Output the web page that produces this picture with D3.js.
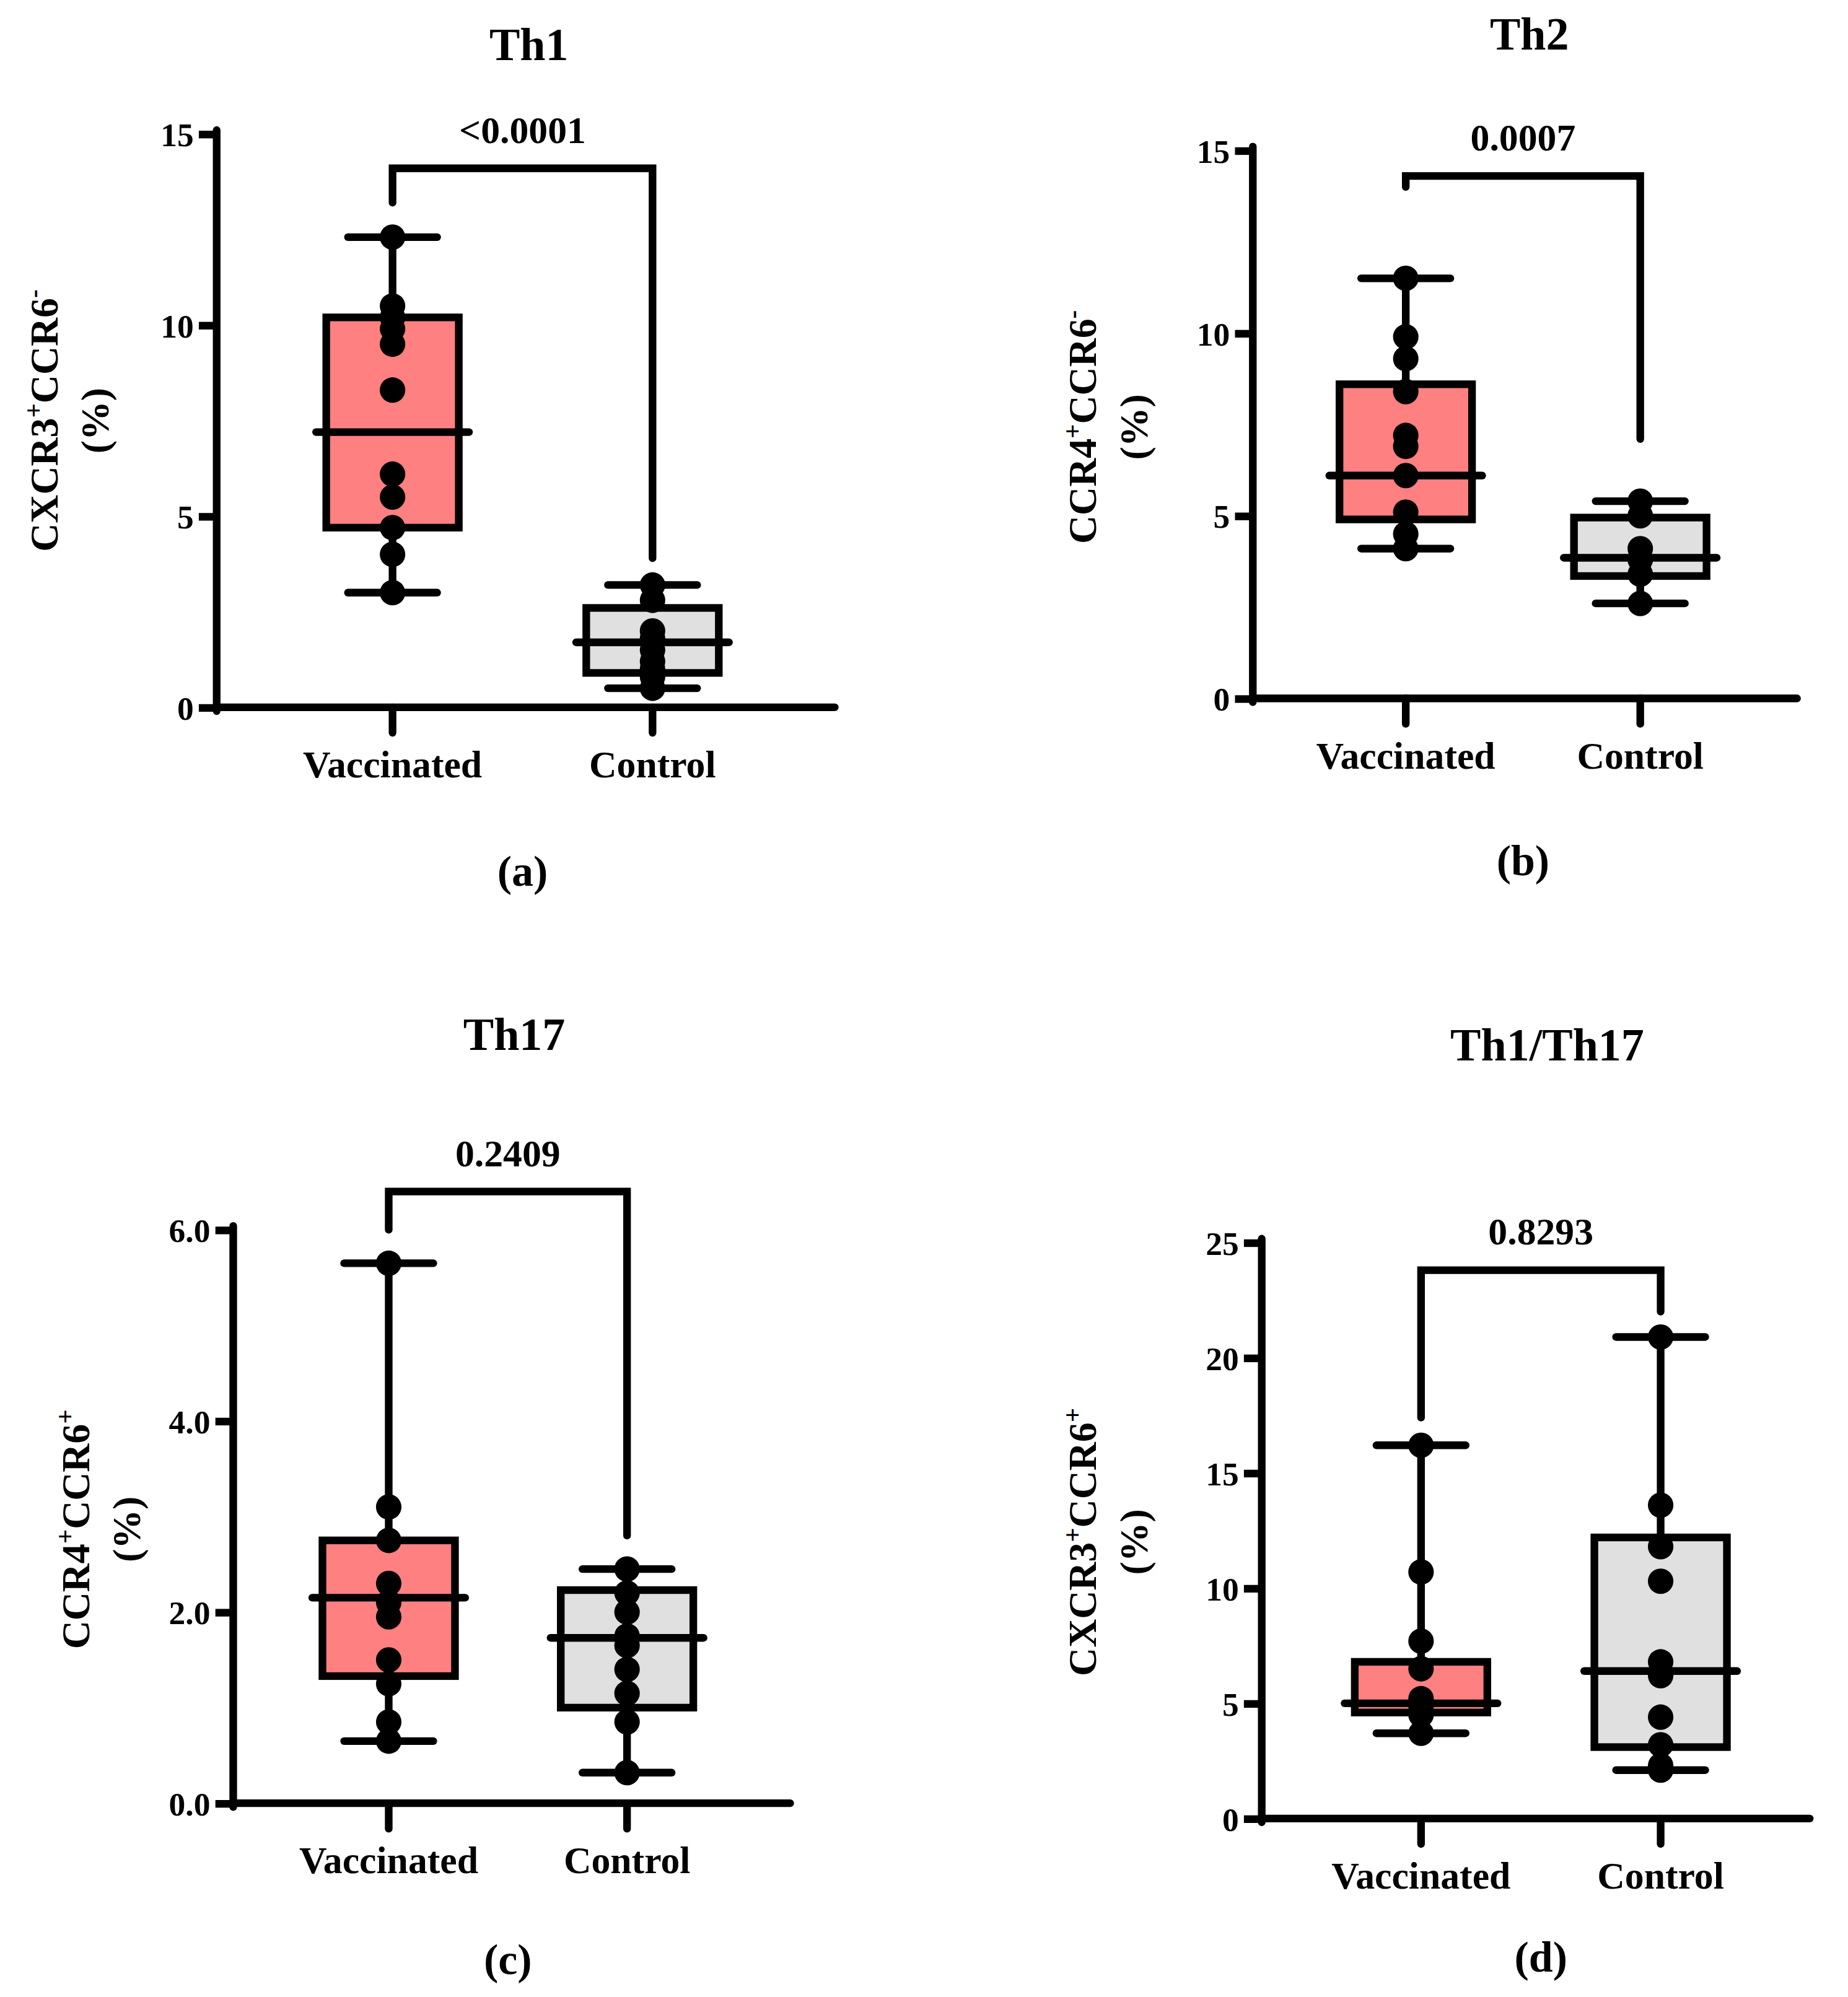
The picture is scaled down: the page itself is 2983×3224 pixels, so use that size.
<!DOCTYPE html>
<html><head><meta charset="utf-8">
<script src="https://cdn.jsdelivr.net/npm/d3@7"></script>
<style>body{margin:0;background:#fff}text{font-family:"Liberation Serif","Times New Roman",serif;font-weight:bold;fill:#000}</style>
</head><body>
<svg id="chart" width="2983" height="3224" viewBox="0 0 1450 1567"></svg>
<script>
//data//
var groups = ["Vaccinated", "Control"];
var th1Vacc = [12.3, 10.5, 10.2, 9.9, 9.5, 8.3, 6.1, 5.5, 4.7, 4.0, 3.0];
var th1Ctrl = [3.2, 2.8, 2.0, 1.8, 1.5, 1.2, 1.0, 0.8, 0.5];
var th1Box = [[3.0, 4.7, 7.2, 10.2, 12.3], [0.5, 0.9, 1.7, 2.6, 3.2]];
var th2Vacc = [11.5, 9.9, 9.3, 8.4, 7.2, 6.9, 6.1, 5.1, 4.5, 4.1];
var th2Ctrl = [5.4, 5.0, 4.1, 3.8, 3.4, 2.6];
var th2Box = [[4.1, 4.9, 6.1, 8.6, 11.5], [2.6, 3.35, 3.85, 4.95, 5.4]];
var th17Vacc = [5.65, 3.1, 2.75, 2.3, 2.1, 1.95, 1.5, 1.25, 0.85, 0.65];
var th17Ctrl = [2.45, 2.2, 2.0, 1.75, 1.65, 1.4, 1.15, 0.85, 0.32];
var th17Box = [[0.65, 1.33, 2.15, 2.75, 5.65], [0.32, 1.0, 1.73, 2.23, 2.45]];
var ratioVacc = [16.2, 10.7, 7.7, 6.5, 5.2, 4.9, 4.7, 4.5, 3.7];
var ratioCtrl = [20.9, 13.6, 11.8, 10.3, 6.8, 6.2, 4.4, 3.2, 2.3, 2.1];
var ratioBox = [[3.7, 4.6, 5.0, 6.8, 16.2], [2.1, 3.1, 6.4, 12.2, 20.9]];
var colors = ["#ff8080", "#e0e0e0"];

var panels = [
 {title:"Th1", tag:"(a)", lab:["CXCR3","+","CCR6","-"], p:"<0.0001", pts:[th1Vacc, th1Ctrl], box:th1Box,
  yMax:15, ticks:[0,5,10,15], br:[13.2, 14.1, 3.9],
  x0:170, x1:655, yTop:105, yBot:555, gx:[308,512], titleY:35, labX:45, labY:330, tagY:683},
 {title:"Th2", tag:"(b)", lab:["CCR4","+","CCR6","-"], p:"0.0007", pts:[th2Vacc, th2Ctrl], box:th2Box,
  yMax:15, ticks:[0,5,10,15], br:[14.0, 14.3, 7.1],
  x0:983, x1:1410, yTop:118, yBot:548, gx:[1103,1287], titleY:27, labX:860, labY:335, tagY:675},
 {title:"Th17", tag:"(c)", lab:["CCR4","+","CCR6","+"], p:"0.2409", pts:[th17Vacc, th17Ctrl], box:th17Box,
  yMax:6, ticks:[0,2,4,6], br:[6.0, 6.4, 2.8],
  x0:183, x1:620, yTop:965, yBot:1415, gx:[305,492], titleY:812, labX:70, labY:1200, tagY:1537},
 {title:"Th1/Th17", tag:"(d)", lab:["CXCR3","+","CCR6","+"], p:"0.8293", pts:[ratioVacc, ratioCtrl], box:ratioBox,
  yMax:25, ticks:[0,5,10,15,20,25], br:[17.4, 23.8, 22.0],
  x0:990, x1:1420, yTop:975, yBot:1427, gx:[1115,1303], titleY:820, labX:860, labY:1210, tagY:1535}
];

var svg = d3.select("#chart");
var LW = 6;

panels.forEach(function(P){
	var g = svg.append("g");
	var y = d3.scaleLinear().domain([0, P.yMax]).range([P.yBot, P.yTop]);
	var mid = (P.gx[0] + P.gx[1]) / 2;

	//title
	g.append("text").attr("x", mid + 5).attr("y", P.titleY + 12).attr("text-anchor","middle")
		.attr("font-size", 36).text(P.title);

	//y axis
	var ax = g.append("g").attr("transform","translate(" + P.x0 + ",0)")
		.call(d3.axisLeft(y).tickValues(P.ticks).tickSize(14).tickPadding(4));
	ax.select(".domain").remove();
	ax.selectAll(".tick line").attr("stroke","#000").attr("stroke-width",LW);
	ax.selectAll(".tick text").attr("font-size",26).attr("font-family","Liberation Serif").attr("font-weight","bold").attr("dy","0.35em");
	g.append("line").attr("x1",P.x0).attr("x2",P.x0).attr("y1",P.yTop-3).attr("y2",P.yBot+3)
		.attr("stroke","#000").attr("stroke-width",LW).attr("stroke-linecap","round");
	//x axis
	g.append("line").attr("x1",P.x0).attr("x2",P.x1).attr("y1",P.yBot).attr("y2",P.yBot)
		.attr("stroke","#000").attr("stroke-width",LW).attr("stroke-linecap","round");
	P.gx.forEach(function(cx, i){
		g.append("line").attr("x1",cx).attr("x2",cx).attr("y1",P.yBot).attr("y2",P.yBot+20)
			.attr("stroke","#000").attr("stroke-width",LW).attr("stroke-linecap","round");
		g.append("text").attr("x",cx).attr("y",P.yBot+55).attr("text-anchor","middle")
			.attr("font-size",30).text(groups[i]);
	});

	//y label
	var lt = g.append("text").attr("transform","translate(" + P.labX + "," + P.labY + ") rotate(-90)")
		.attr("text-anchor","middle").attr("font-size",31);
	lt.append("tspan").text(P.lab[0]);
	lt.append("tspan").attr("dy",-12).attr("font-size",20).text(P.lab[1]);
	lt.append("tspan").attr("dy",12).text(P.lab[2]);
	lt.append("tspan").attr("dy",-12).attr("font-size",20).text(P.lab[3]);
	g.append("text").attr("transform","translate(" + (P.labX+40) + "," + P.labY + ") rotate(-90)")
		.attr("text-anchor","middle").attr("font-size",31).text("(%)");

	//boxes
	P.box.forEach(function(b, i){
		var cx = P.gx[i], hw = 52;
		g.append("line").attr("x1",cx).attr("x2",cx).attr("y1",y(b[0])).attr("y2",y(b[4]))
			.attr("stroke","#000").attr("stroke-width",LW);
		[b[0], b[4]].forEach(function(v){
			g.append("line").attr("x1",cx-35).attr("x2",cx+35).attr("y1",y(v)).attr("y2",y(v))
				.attr("stroke","#000").attr("stroke-width",LW).attr("stroke-linecap","round");
		});
		g.append("rect").attr("x",cx-hw).attr("y",y(b[3])).attr("width",hw*2).attr("height",y(b[1])-y(b[3]))
			.attr("fill",colors[i]).attr("stroke","#000").attr("stroke-width",LW);
		g.append("line").attr("x1",cx-hw-8).attr("x2",cx+hw+8).attr("y1",y(b[2])).attr("y2",y(b[2]))
			.attr("stroke","#000").attr("stroke-width",LW).attr("stroke-linecap","round");
		g.selectAll(null).data(P.pts[i]).enter().append("circle")
			.attr("cx",cx).attr("cy",function(d){ return y(d); }).attr("r",10).attr("fill","#000");
	});

	//significance bracket
	var bl = P.br[0], bt = P.br[1], brr = P.br[2];
	g.append("path").attr("d","M" + P.gx[0] + "," + y(bl) + "V" + y(bt) + "H" + P.gx[1] + "V" + y(brr))
		.attr("fill","none").attr("stroke","#000").attr("stroke-width",LW).attr("stroke-linecap","round");
	g.append("text").attr("x",mid).attr("y",y(bt)-20).attr("text-anchor","middle")
		.attr("font-size",30).text(P.p);

	//tag
	g.append("text").attr("x",mid).attr("y",P.tagY+12).attr("text-anchor","middle")
		.attr("font-size",34).text(P.tag);
});
</script>
</body></html>
